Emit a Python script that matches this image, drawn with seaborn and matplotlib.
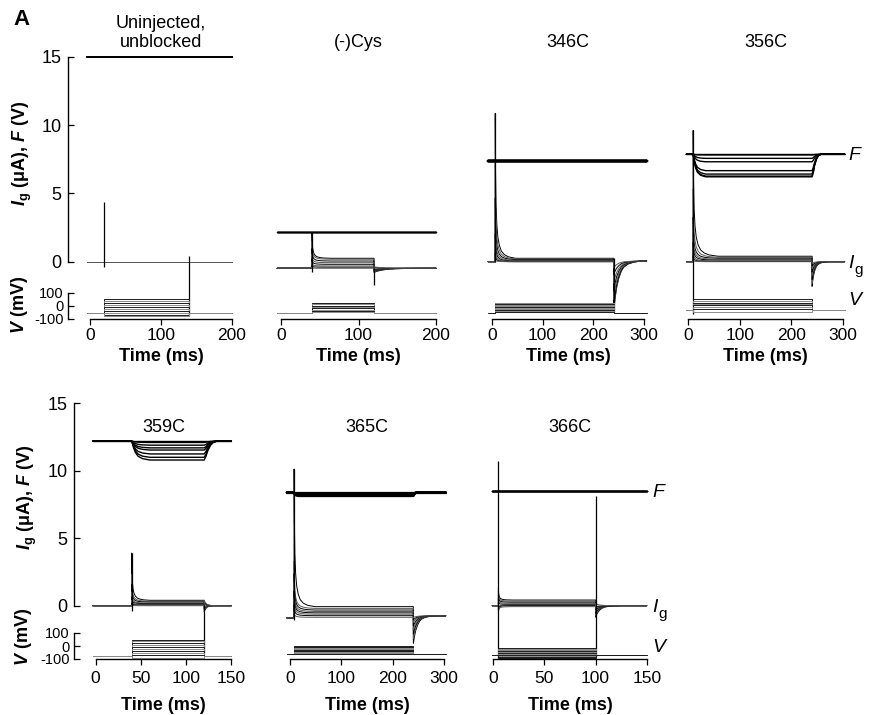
import matplotlib
matplotlib.use("Agg")
import matplotlib.pyplot as plt
import numpy as np
import pandas as pd
import seaborn as sns

# ---------------- data ----------------
titles = ["Uninjected,\nunblocked", "(-)Cys", "346C", "356C", "359C", "365C", "366C"]
x_max = [200, 200, 300, 300, 150, 300, 150]
x_ticks = [[0, 100, 200], [0, 100, 200], [0, 100, 200, 300], [0, 100, 200, 300],
           [0, 50, 100, 150], [0, 100, 200, 300], [0, 50, 100, 150]]
t_start = [-4, -5, -7, -3, -3, -6, -1]
t_on = [20, 40, 7, 10, 40, 8, 5]
t_off = [140, 120, 240, 240, 120, 240, 100]
t_end = [200, 200, 305, 303, 150, 303, 150]

# voltage protocol (mV)
v_hold = [-60, -60, -55, -35, -77, -64, -69]
v_steps = [
    [50, 35, 20, 5, -10, -25, -40, -55, -70, -80],
    [25, 12, 0, -10, -20, -30, -40, -50],
    [25, 19, 13, 7, 1, -5, -11, -17, -23, -29, -35, -41, -47],
    [50, 35, 23, 12, 5, -12, -25, -47],
    [50, 35, 20, 5, -10, -25, -40, -55, -70, -90],
    [0, -5, -10, -15, -20, -25, -30, -35, -40, -45, -50, -55, -60],
    [-13, -20, -27, -34, -41, -48, -55, -62, -69, -76, -83, -90, -95],
]

# fluorescence (V)
f_base = [15.0, 2.15, 7.37, 7.86, 12.2, 8.38, 8.53]
f_drop = [
    [0] * 8, [0] * 8, [0] * 8,
    [0, 0.05, 0.3, 0.55, 1.2, 1.45, 1.6, 1.65],
    [0, 0.1, 0.3, 0.5, 0.66, 0.95, 1.2, 1.4],
    [0, 0.05, 0.1, 0.12, 0.15, 0.18, 0.2, 0.25],
    [0] * 8,
]
f_width = [1.4, 0.9, 1.7, 1.0, 1.0, 1.6, 1.0]
f_tscale = [1, 1, 1, 1.2, 1.0, 0.5, 1]
fon_t = [0, 2, 4, 7, 12, 20]
fon_f = [0, 0.35, 0.6, 0.8, 0.93, 1]
foff_t = [0, 2, 4, 7, 10, 14]
foff_f = [1, 0.8, 0.5, 0.22, 0.07, 0]

# gating current (uA)
ig_pre = [0, -0.48, 0, 0, 0, -0.9, 0]
ig_post = [0, -0.48, 0.05, 0, 0, -0.75, 0]
ig_plateau = [
    [0] * 8,
    [0.25, 0.18, 0.05, -0.07, -0.19, -0.31, -0.4, -0.48],
    [0.25, 0.2, 0.15, 0.1, 0.05, 0.02, 0, 0],
    [0.4, 0.32, 0.25, 0.18, 0.12, 0.06, 0.02, 0],
    [0.4, 0.33, 0.27, 0.2, 0.15, 0.1, 0.05, 0],
    [-0.07, -0.2, -0.32, -0.43, -0.53, -0.63, -0.74, -0.86],
    [0.42, 0.34, 0.26, 0.18, 0.1, 0.04, 0, -0.07],
]
on_amp = [
    [0] * 8,
    [1.9, 1.3, 0.9, 0.6, 0.4, 0.25, 0.12, 0.05],
    [10.6, 7, 4.5, 3, 2, 1.2, 0.6, 0.2],
    [9.2, 5, 3, 2, 1.3, 0.8, 0.4, 0.15],
    [3.5, 2.0, 1.3, 0.8, 0.5, 0.3, 0.15, 0.05],
    [10.2, 3.5, 2.7, 2.1, 1.6, 1.2, 0.8, 0.4],
    [0.9, 0.7, 0.5, 0.35, 0.2, -0.2, -0.35, -0.5],
]
off_amp = [
    [0] * 8,
    [-0.3, -0.25, -0.2, -0.15, -0.1, -0.05, 0.05, 0.1],
    [-3.75, -3.6, -3.3, -2.8, -2.2, -1.6, -1.0, -0.5],
    [-1.8, -1.55, -1.3, -1.0, -0.75, -0.5, -0.3, -0.12],
    [-0.45, -0.3, -0.2, -0.1, 0.1, 0.2, 0.3, 0.4],
    [-2.05, -1.7, -1.35, -1.05, -0.75, -0.5, -0.3, -0.12],
    [-0.85, -0.7, -0.55, -0.42, -0.3, -0.18, -0.08, 0.15],
]
on_t = [0, 0.5, 1.5, 3, 5, 8, 12, 18, 26, 40]
on_f = [1, 0.62, 0.38, 0.24, 0.15, 0.09, 0.05, 0.025, 0.01, 0]
off_t = [0, 3, 6, 10, 15, 20, 28, 40, 55]
off_f = [1, 0.72, 0.52, 0.34, 0.2, 0.12, 0.06, 0.02, 0]
on_tscale = [1, 0.6, 1.0, 1.2, 0.5, 1.0, 0.35]
off_tscale = [1, 1.4, 1.0, 0.55, 0.25, 0.8, 0.45]
# capacitive / artifact spikes: (time, from, to)
spikes = [
    [(20, -0.37, 4.39), (140, 0.42, -4.0)],
    [(40, -0.75, 2.15), (120, -0.48, -1.7)],
    [(7, 0, 10.9), (240, 0.25, -3.7)],
    [(10, -3.8, 9.6)],
    [(40, -0.4, 3.9), (120, 0.05, -3.5)],
    [(8, -1.06, 10.1)],
    [(5, -3.9, 10.7), (100, -3.8, 8.1)],
]

# ---------------- layout (pixels) ----------------
W, H = 869, 715
row_of = [0, 0, 0, 0, 1, 1, 1]
x0_px = [90, 281, 491.7, 688, 95.5, 290, 493.3]
px_ms = [0.71, 0.775, 0.508, 0.517, 0.906, 0.514, 1.023]
ROW_ZERO = [261.7, 605.7]
ROW_PPU = [13.67, 13.49]
ROW_VZERO = [305.7, 646.0]
ROW_PPMV = [0.128, 0.13]
ROW_TOP = [40, 395]
SPINE_PX = [68, 74]
TITLE_BASE = [47, 432]
XLABEL_BASE = [361, 710]
XTICK_PAD = [3.2, 4.6]

sns.set_theme(style="ticks")
plt.rcParams["font.family"] = ["Liberation Sans", "DejaVu Sans"]
plt.rcParams["mathtext.fontset"] = "custom"
plt.rcParams["mathtext.rm"] = "Liberation Sans:bold"
plt.rcParams["mathtext.it"] = "Liberation Sans:italic:bold"
plt.rcParams["mathtext.bf"] = "Liberation Sans:bold"
for key in ("text.color", "axes.labelcolor", "xtick.color", "ytick.color", "axes.edgecolor"):
    plt.rcParams[key] = "black"

fig = plt.figure(figsize=(W / 100, H / 100), dpi=100)


def add_ax(left, top, right, bottom):
    return fig.add_axes([left / W, 1 - bottom / H, (right - left) / W, (bottom - top) / H])


def ig_frame(i):
    rows = []
    for k in range(len(ig_plateau[i])):
        pts = [(t_start[i], ig_pre[i]), (t_on[i], ig_pre[i])]
        for dt, fr in zip(on_t, on_f):
            pts.append((t_on[i] + dt * on_tscale[i], ig_plateau[i][k] + on_amp[i][k] * fr))
        pts.append((t_off[i], ig_plateau[i][k]))
        for dt, fr in zip(off_t, off_f):
            tt = t_off[i] + dt * off_tscale[i]
            if tt < t_end[i]:
                pts.append((tt, ig_post[i] + off_amp[i][k] * fr))
        pts.append((t_end[i], ig_post[i]))
        rows += [(t, y, k) for t, y in pts]
    return pd.DataFrame(rows, columns=["t", "y", "sweep"])


def f_frame(i):
    rows = []
    fb = f_base[i]
    for k, d in enumerate(f_drop[i]):
        pts = [(t_start[i], fb), (t_on[i], fb)]
        for dt, fr in zip(fon_t, fon_f):
            pts.append((t_on[i] + dt * f_tscale[i], fb - d * fr))
        pts.append((t_off[i], fb - d))
        for dt, fr in zip(foff_t, foff_f):
            pts.append((t_off[i] + dt * f_tscale[i], fb - d * fr))
        pts.append((t_end[i], fb))
        rows += [(t, y, k) for t, y in pts]
    return pd.DataFrame(rows, columns=["t", "y", "sweep"])


def v_frame(i):
    rows = []
    h = v_hold[i]
    for k, s in enumerate(v_steps[i]):
        pts = [(t_start[i], h), (t_on[i], h), (t_on[i], s), (t_off[i], s), (t_off[i], h), (t_end[i], h)]
        rows += [(t, y, k) for t, y in pts]
    return pd.DataFrame(rows, columns=["t", "y", "sweep"])


for i in range(7):
    r = row_of[i]
    first = i in (0, 4)
    x0, s = x0_px[i], px_ms[i]
    left_px = SPINE_PX[r] if first else x0 + (t_start[i] - 3) * s
    right_px = x0 + (max(t_end[i], x_max[i]) + 3) * s
    xlim = ((left_px - x0) / s, (right_px - x0) / s)
    zero, ppu = ROW_ZERO[r], ROW_PPU[r]
    vz, ppmv = ROW_VZERO[r], ROW_PPMV[r]
    axis_px = vz + 100 * ppmv
    top_px = ROW_TOP[r]

    axF = add_ax(left_px, top_px, right_px, axis_px)
    axV = add_ax(left_px, vz - 115 * ppmv, right_px, axis_px)
    for ax in (axF, axV):
        ax.patch.set_visible(False)
        ax.set_xlim(*xlim)
        for sp in ("top", "right"):
            ax.spines[sp].set_visible(False)
    axF.set_ylim((zero - axis_px) / ppu, (zero - top_px) / ppu)
    axV.set_ylim(-100, 115)

    # traces
    dfF = f_frame(i)
    sns.lineplot(data=dfF, x="t", y="y", units="sweep", estimator=None, sort=False,
                 color="black", linewidth=f_width[i], ax=axF, legend=False, clip_on=False)
    dfI = ig_frame(i)
    n = dfI["sweep"].nunique()
    pal = {k: ("black" if k % 2 == 0 else "0.35") for k in range(n)}
    sns.lineplot(data=dfI, x="t", y="y", hue="sweep", units="sweep", estimator=None, sort=False,
                 palette=pal, linewidth=0.7, ax=axF, legend=False, clip_on=False)
    for (ts, y0, y1) in spikes[i]:
        axF.vlines(ts, y0, y1, color="black", linewidth=0.9, clip_on=False)
    dfV = v_frame(i)
    nv = dfV["sweep"].nunique()
    palv = {k: ("0.1" if k % 2 == 0 else "0.55") for k in range(nv)}
    sns.lineplot(data=dfV, x="t", y="y", hue="sweep", units="sweep", estimator=None, sort=False,
                 palette=palv, linewidth=0.7, ax=axV, legend=False, clip_on=False)

    axF.set_xlabel("")
    axF.set_ylabel("")
    axV.set_xlabel("")
    axV.set_ylabel("")

    # axes decoration
    axF.spines["bottom"].set_visible(False)
    axF.set_xticks([])
    axV.spines["bottom"].set_bounds(0, x_max[i])
    axV.spines["bottom"].set_linewidth(1.0)
    axV.set_xticks(x_ticks[i])
    axV.set_xticklabels([str(v) for v in x_ticks[i]])
    axV.tick_params(axis="x", direction="out", length=4, width=0.9, pad=XTICK_PAD[r],
                    labelsize=12.5, colors="black")
    if first:
        axF.spines["left"].set_bounds(0, 15)
        axF.spines["left"].set_linewidth(1.0)
        axF.set_yticks([0, 5, 10, 15])
        axF.set_yticklabels(["0", "5", "10", "15"])
        axF.tick_params(axis="y", direction="in", length=4.5, width=0.9, pad=4.5,
                        labelsize=13, colors="black")
        axV.spines["left"].set_bounds(-100, 100)
        axV.spines["left"].set_linewidth(1.0)
        axV.set_yticks([-100, 0, 100])
        axV.set_yticklabels(["-100", "0", "100"])
        axV.tick_params(axis="y", direction="in", length=4, width=0.9, pad=3,
                        labelsize=10.5, colors="black")
    else:
        for ax in (axF, axV):
            ax.spines["left"].set_visible(False)
            ax.set_yticks([])

    # titles and x labels
    cx = (x0 + x_max[i] / 2 * s) / W
    if "\n" in titles[i]:
        l1, l2 = titles[i].split("\n")
        fig.text(cx, 1 - 28 / H, l1, ha="center", va="baseline", fontsize=13)
        fig.text(cx, 1 - TITLE_BASE[r] / H, l2, ha="center", va="baseline", fontsize=13)
    else:
        fig.text(cx, 1 - TITLE_BASE[r] / H, titles[i], ha="center", va="baseline", fontsize=13)
    fig.text(cx, 1 - XLABEL_BASE[r] / H, "Time (ms)", ha="center", va="baseline",
             fontsize=13, fontweight="bold")

# y labels
for r, (ycen, vcen, xl, xv) in enumerate([(153, 305, 22, 19), (497, 637, 27, 24)]):
    fig.text(xl / W, 1 - ycen / H, r"$I_\mathbf{g}$ (μA), $F$ (V)", rotation=90,
             ha="center", va="center", fontsize=13, fontweight="bold")
    fig.text(xv / W, 1 - vcen / H, r"$V$ (mV)", rotation=90,
             ha="center", va="center", fontsize=13, fontweight="bold")

# right-side trace labels
for (xf, bf, bi, bv) in [(848, 160, 268, 305), (652, 497, 612, 652)]:
    fig.text(xf / W, 1 - bf / H, "F", fontstyle="italic", fontsize=14, va="baseline")
    fig.text(xf / W, 1 - bi / H, "I", fontstyle="italic", fontsize=14, va="baseline")
    fig.text((xf + 6) / W, 1 - (bi + 6) / H, "g", fontsize=11, va="baseline")
    fig.text(xf / W, 1 - bv / H, "V", fontstyle="italic", fontsize=14, va="baseline")

fig.text(13 / W, 1 - 25 / H, "A", fontsize=16, fontweight="bold", va="baseline")

fig.savefig("out.png", dpi=100)
